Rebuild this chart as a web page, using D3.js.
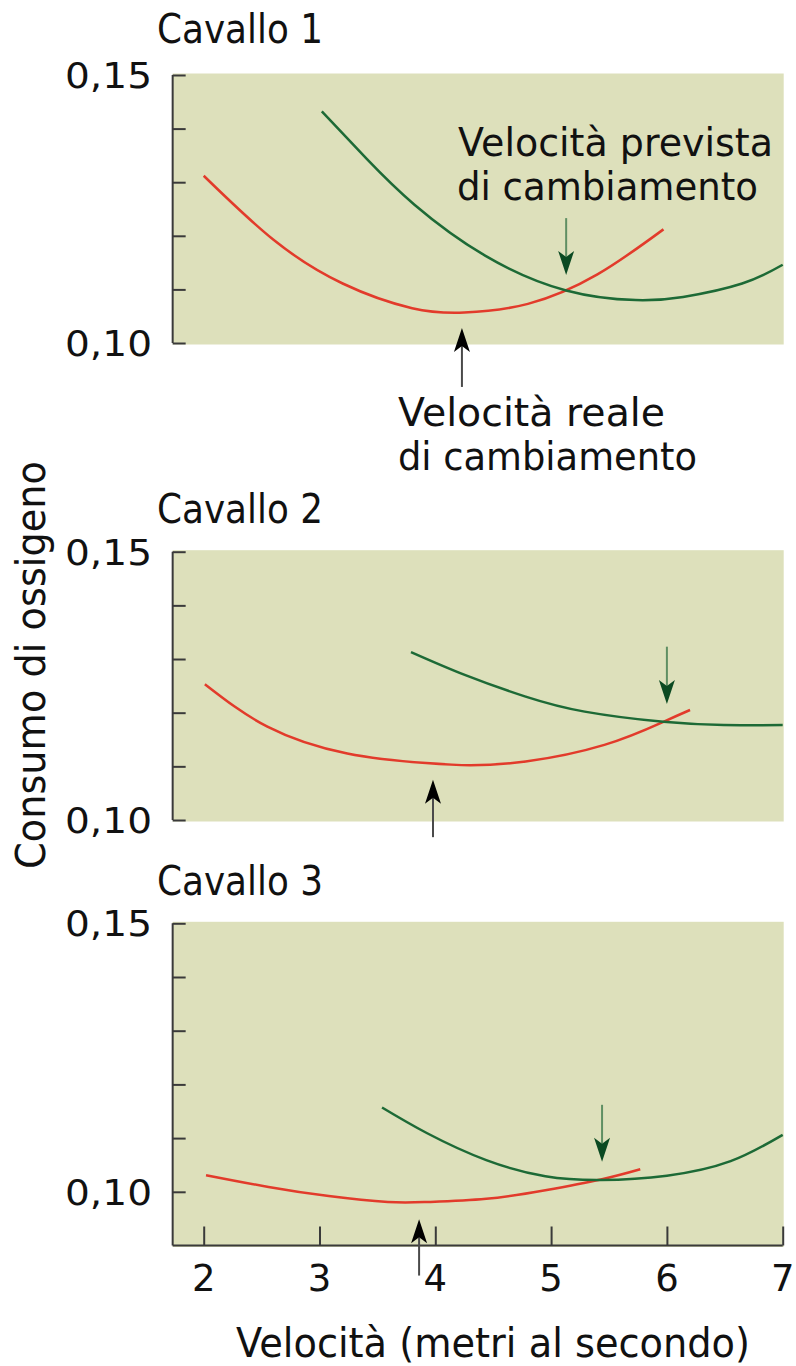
<!DOCTYPE html>
<html>
<head>
<meta charset="utf-8">
<script src="https://cdn.jsdelivr.net/npm/d3@7"></script>
<style>
  html, body { margin: 0; padding: 0; background: #ffffff; }
  svg { display: block; }
  text { font-family: "DejaVu Sans", "Noto Sans", sans-serif; fill: #111; }
</style>
</head>
<body>
<script>
// ---------------- DATA ----------------
const panelTitles = ["Cavallo 1", "Cavallo 2", "Cavallo 3"];
const xTicks = [2, 3, 4, 5, 6, 7];
const yTicks = [0.10, 0.11, 0.12, 0.13, 0.14, 0.15];
const yTickLabels = { "0.1": "0,10", "0.15": "0,15" };
const xTitle = "Velocità (metri al secondo)";
const yTitle = "Consumo di ossigeno";

// Actual gait (red) oxygen consumption curves: [speed m/s, O2]
const red1 = [[2.00,0.1312],[2.60,0.1193],[3.20,0.1111],[3.80,0.1065],[4.25,0.1057],[4.80,0.1073],[5.40,0.1128],[5.97,0.1212]];
const red2 = [[2.01,0.1253],[2.55,0.1174],[3.24,0.1124],[3.92,0.1106],[4.30,0.1102],[4.78,0.1109],[5.46,0.1140],[5.97,0.1183],[6.20,0.1205]];
const red3 = [[2.02,0.1031],[2.56,0.1009],[3.08,0.0992],[3.59,0.0981],[3.93,0.0981],[4.44,0.0987],[4.95,0.1003],[5.43,0.1023],[5.77,0.1042]];
// Next gait (green) curves
const green1 = [[3.02,0.1432],[3.41,0.1343],[3.82,0.1258],[4.43,0.1163],[5.13,0.1098],[5.73,0.1080],[6.14,0.1086],[6.65,0.1111],[7.00,0.1146]];
const green2 = [[3.79,0.1313],[4.26,0.1270],[4.78,0.1230],[5.29,0.1202],[5.97,0.1183],[6.49,0.1177],[7.00,0.1177]];
const green3 = [[3.54,0.1157],[3.93,0.1109],[4.44,0.1059],[4.95,0.1029],[5.43,0.1022],[6.00,0.1030],[6.55,0.1057],[7.00,0.1106]];

// Arrows: speed, tail value, tip value
const predictedArrows = [[5.13,0.1233,0.1127],[6.00,0.1323,0.1216],[5.44,0.1162,0.1056]];
const actualArrows    = [[4.23,0.0918,0.1028],[3.98,0.0968,0.1075],[3.86,0.0844,0.0949]];

const annotPredicted = ["Velocità prevista", "di cambiamento"];
const annotActual    = ["Velocità reale", "di cambiamento"];

// ---------------- LAYOUT ----------------
const W = 796, H = 1366;
const xMinDomain = 1.732, xMaxDomain = 7;
const x = d3.scaleLinear().domain([2, 7]).range([203.7, 782.7]);

const panels = [
  { title: panelTitles[0], titleY: 43,  domain: [0.10, 0.15], range: [343, 75],     red: red1, green: green1, xAxis: false },
  { title: panelTitles[1], titleY: 523, domain: [0.10, 0.15], range: [820, 551.7],  red: red2, green: green2, xAxis: false },
  { title: panelTitles[2], titleY: 895, domain: [0.09, 0.15], range: [1245.5, 923.3], red: red3, green: green3, xAxis: true }
];

const svg = d3.select("body").append("svg").attr("width", W).attr("height", H);

const BG = "#dde0bb";
const RED = "#e23b2b";
const GREEN = "#1d6a36";
const AXIS = "#3a3a3a";

function arrowHead(g, xt, yt, dir, color) {
  const L = 24, hw = 8, notch = 6;
  const p = d3.path();
  p.moveTo(xt, yt);
  p.lineTo(xt - hw, yt - dir * L);
  p.lineTo(xt, yt - dir * (L - notch));
  p.lineTo(xt + hw, yt - dir * L);
  p.closePath();
  g.append("path").attr("d", p.toString()).attr("fill", color);
}

panels.forEach((P, i) => {
  const y = d3.scaleLinear().domain(P.domain).range(P.range);
  const g = svg.append("g");

  g.append("rect")
    .attr("x", x(xMinDomain))
    .attr("y", y(P.domain[1]) - 1.5)
    .attr("width", x(xMaxDomain) - x(xMinDomain) + 1)
    .attr("height", y(P.domain[0]) - y(P.domain[1]) + 3)
    .attr("fill", BG);

  g.append("text").attr("x", 157).attr("y", P.titleY)
    .attr("font-size", 40)
    .attr("textLength", 166).attr("lengthAdjust", "spacingAndGlyphs")
    .text(P.title);

  const yAxis = d3.axisRight(y).tickValues(yTicks).tickSize(13).tickFormat("");
  const ya = g.append("g").attr("transform", `translate(${x(xMinDomain)},0)`).call(yAxis);
  ya.select(".domain").attr("stroke", AXIS).attr("stroke-width", 2)
    .attr("d", `M0,${y(0.15)}V${P.xAxis ? y(P.domain[0]) : y(0.10)}`);
  ya.selectAll(".tick line").attr("stroke", AXIS).attr("stroke-width", 2);

  [0.10, 0.15].forEach(v => {
    g.append("text")
      .attr("x", 152).attr("y", y(v) + 13)
      .attr("text-anchor", "end")
      .attr("font-size", 36)
      .attr("textLength", 87).attr("lengthAdjust", "spacingAndGlyphs")
      .text(yTickLabels[String(v)]);
  });

  if (P.xAxis) {
    const xAxis = d3.axisTop(x).tickValues(xTicks).tickSize(19).tickFormat("");
    const xa = g.append("g").attr("transform", `translate(0,${y(P.domain[0])})`).call(xAxis);
    xa.select(".domain").attr("stroke", AXIS).attr("stroke-width", 2)
      .attr("d", `M${x(xMinDomain)},0H${x(xMaxDomain)}`);
    xa.selectAll(".tick line").attr("stroke", AXIS).attr("stroke-width", 2);
    xTicks.forEach(t => {
      g.append("text").attr("x", x(t)).attr("y", y(P.domain[0]) + 45)
        .attr("text-anchor", "middle").attr("font-size", 37)
        .text(String(t));
    });
  }

  const line = d3.line().x(d => x(d[0])).y(d => y(d[1])).curve(d3.curveNatural);
  g.append("path").datum(P.red).attr("d", line).attr("fill", "none")
    .attr("stroke", RED).attr("stroke-width", 2.5);
  g.append("path").datum(P.green).attr("d", line).attr("fill", "none")
    .attr("stroke", GREEN).attr("stroke-width", 2.5);

  const pa = predictedArrows[i];
  g.append("line").attr("x1", x(pa[0])).attr("x2", x(pa[0]))
    .attr("y1", y(pa[1])).attr("y2", y(pa[2]) - 18)
    .attr("stroke", "#5f8f63").attr("stroke-width", 2);
  arrowHead(g, x(pa[0]), y(pa[2]), 1, "#0b4a22");

  const aa = actualArrows[i];
  g.append("line").attr("x1", x(aa[0])).attr("x2", x(aa[0]))
    .attr("y1", y(aa[1])).attr("y2", y(aa[2]) + 18)
    .attr("stroke", "#4a4a4a").attr("stroke-width", 2);
  arrowHead(g, x(aa[0]), y(aa[2]), -1, "#000");
});

const ann = svg.append("g").attr("font-size", 39);
ann.append("text").attr("x", 458).attr("y", 156).attr("textLength", 315).attr("lengthAdjust", "spacingAndGlyphs").text(annotPredicted[0]);
ann.append("text").attr("x", 457).attr("y", 200).attr("textLength", 301).attr("lengthAdjust", "spacingAndGlyphs").text(annotPredicted[1]);
ann.append("text").attr("x", 398).attr("y", 426).attr("textLength", 267).attr("lengthAdjust", "spacingAndGlyphs").text(annotActual[0]);
ann.append("text").attr("x", 398).attr("y", 470).attr("textLength", 299).attr("lengthAdjust", "spacingAndGlyphs").text(annotActual[1]);

svg.append("text").attr("x", 236).attr("y", 1357).attr("font-size", 40)
  .attr("textLength", 514).attr("lengthAdjust", "spacingAndGlyphs").text(xTitle);
svg.append("text").attr("transform", "translate(45,665) rotate(-90)")
  .attr("text-anchor", "middle").attr("font-size", 40)
  .attr("textLength", 408).attr("lengthAdjust", "spacingAndGlyphs").text(yTitle);
</script>
</body>
</html>
